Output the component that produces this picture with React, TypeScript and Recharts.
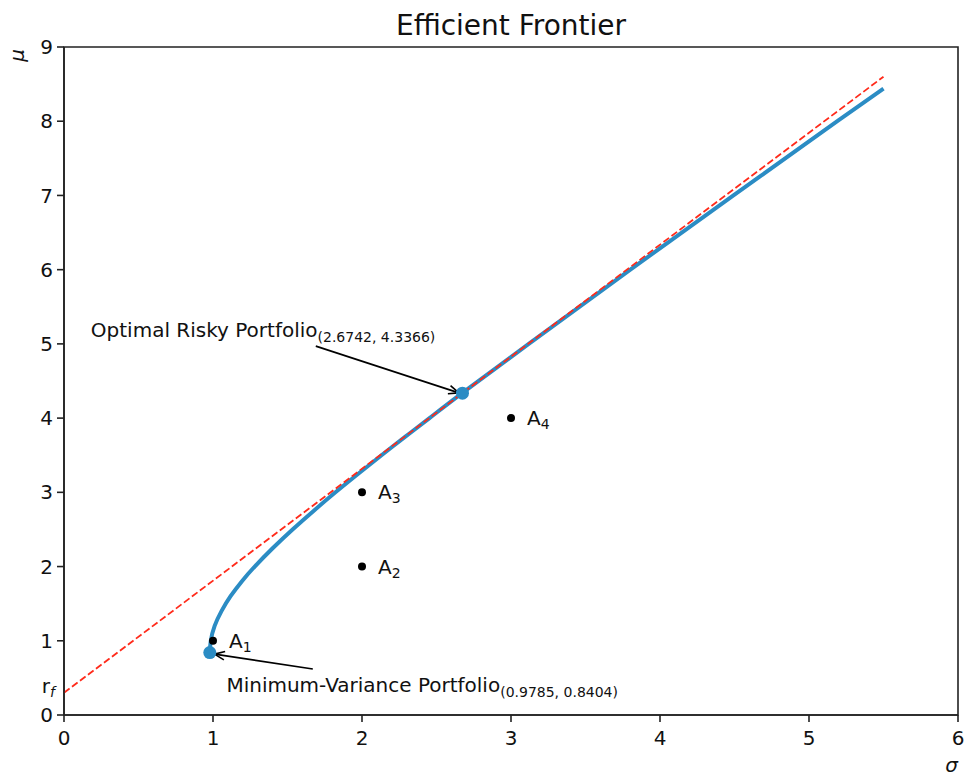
import { ComposedChart, Line, Scatter, XAxis, YAxis, ReferenceLine, ReferenceArea } from 'recharts';

// axes
const X_TICKS = [0, 1, 2, 3, 4, 5, 6];
const Y_TICKS = [0, 1, 2, 3, 4, 5, 6, 7, 8, 9];
const RF = 0.3;

// efficient frontier (sigma, mu)
const frontierSigma = [0.979, 0.985, 1.011, 1.057, 1.118, 1.193, 1.28, 1.402, 1.534, 1.675, 1.822, 1.975, 2.131, 2.291, 2.453, 2.674, 3.119, 3.801, 4.493, 5.19, 5.5];
const frontierMu = [0.84, 1.0, 1.2, 1.4, 1.6, 1.8, 2.0, 2.25, 2.5, 2.75, 3.0, 3.25, 3.5, 3.75, 4.0, 4.34, 5.0, 6.0, 7.0, 8.0, 8.44];

// capital market line
const cmlSigma = [0, 5.5];
const cmlMu = [RF, 8.6];

// single assets
const assetIds = ['1', '2', '3', '4'];
const assetSigma = [1, 2, 2, 3];
const assetMu = [1, 2, 3, 4];

// highlighted portfolios
const portfolioNames = ['Minimum-Variance Portfolio', 'Optimal Risky Portfolio'];
const portfolioSigma = [0.9785, 2.6742];
const portfolioMu = [0.8404, 4.3366];
const textSigma = [1.09, 0.18];
const textMu = [0.31, 5.09];
const arrowFromSigma = [1.67, 1.69];
const arrowFromMu = [0.62, 4.97];
const arrowToSigma = [1.01, 2.65];
const arrowToMu = [0.82, 4.34];

const BLUE = '#2b8cc4';
const RED = '#ff2a1a';
const FONT = 'DejaVu Sans, sans-serif';

const frontier = frontierSigma.map((x, i) => ({ x, y: frontierMu[i] }));
const cml = cmlSigma.map((x, i) => ({ x, y: cmlMu[i] }));
const assets = assetIds.map((id, i) => ({ id, x: assetSigma[i], y: assetMu[i] }));
const portfolios = portfolioNames.map((name, i) => ({ name, x: portfolioSigma[i], y: portfolioMu[i] }));
const notes = portfolioNames.map((name, i) => ({
  name,
  sub: `(${portfolioSigma[i].toFixed(4)}, ${portfolioMu[i].toFixed(4)})`,
  x: textSigma[i],
  y: textMu[i],
}));
const rfMark = [{ x: 0, y: RF }];

const AssetDot = (props: any) => {
  const { cx, cy, payload } = props;
  return (
    <g>
      <circle cx={cx} cy={cy} r={4} fill="#000" />
      <text x={cx + 16} y={cy + 7} fontSize={20} fontFamily={FONT} fill="#111">
        A<tspan fontSize={14} dy={4}>{payload.id}</tspan>
      </text>
    </g>
  );
};

const NoteText = (props: any) => {
  const { cx, cy, payload } = props;
  return (
    <text x={cx} y={cy} fontSize={20} fontFamily={FONT} fill="#111">
      {payload.name}
      <tspan fontSize={14} dy={5}>{payload.sub}</tspan>
    </text>
  );
};

const RfText = (props: any) => {
  const { cx, cy } = props;
  return (
    <text x={cx - 9} y={cy} textAnchor="end" fontSize={20} fontFamily={FONT} fill="#111">
      r<tspan fontSize={14} fontStyle="italic" dy={4}>f</tspan>
    </text>
  );
};

const Arrow = (props: any) => {
  const { x1, y1, x2, y2 } = props;
  const a = Math.atan2(y2 - y1, x2 - x1);
  const len = 11;
  const spread = 0.4;
  return (
    <g stroke="#000" strokeWidth={1.6} fill="none">
      <line x1={x1} y1={y1} x2={x2} y2={y2} />
      <line x1={x2} y1={y2} x2={x2 - len * Math.cos(a - spread)} y2={y2 - len * Math.sin(a - spread)} />
      <line x1={x2} y1={y2} x2={x2 - len * Math.cos(a + spread)} y2={y2 - len * Math.sin(a + spread)} />
    </g>
  );
};

const YLabel = (props: any) => {
  const { viewBox } = props;
  return (
    <text
      transform={`translate(${viewBox.x + 24}, ${viewBox.y + 2}) rotate(-90)`}
      textAnchor="end"
      fontSize={20}
      fontStyle="italic"
      fontFamily={FONT}
      fill="#111"
    >
      μ
    </text>
  );
};

const XLabel = (props: any) => {
  const { viewBox } = props;
  return (
    <text
      x={viewBox.x + viewBox.width}
      y={viewBox.y + 57}
      textAnchor="end"
      fontSize={20}
      fontStyle="italic"
      fontFamily={FONT}
      fill="#111"
    >
      σ
    </text>
  );
};

const App = () => {
  const tick = { fill: '#111', fontSize: 20, fontFamily: FONT };
  return (
    <div style={{ position: 'absolute', left: 0, top: 0, width: 966, height: 774, background: '#fff' }}>
      <div
        style={{
          position: 'absolute',
          left: 64,
          width: 894,
          top: 9,
          textAlign: 'center',
          fontFamily: FONT,
          fontSize: 28,
          color: '#111',
          lineHeight: '34px',
        }}
      >
        Efficient Frontier
      </div>
      <ComposedChart width={966} height={774} margin={{ top: 47, right: 8, bottom: 0, left: 0 }}>
        <XAxis
          type="number"
          dataKey="x"
          domain={[0, 6]}
          ticks={X_TICKS}
          height={59}
          tick={tick}
          tickSize={7}
          tickMargin={9}
          stroke="#222"
          strokeWidth={1.6}
          label={<XLabel />}
        />
        <YAxis
          type="number"
          dataKey="y"
          domain={[0, 9]}
          ticks={Y_TICKS}
          width={64}
          tick={tick}
          tickSize={7}
          tickMargin={4}
          stroke="#222"
          strokeWidth={1.6}
          label={<YLabel />}
        />
        <ReferenceArea x1={0} x2={6} y1={0} y2={9} fill="none" stroke="#222" strokeWidth={1.6} />
        <Line
          data={frontier}
          dataKey="y"
          type="natural"
          stroke={BLUE}
          strokeWidth={4}
          dot={false}
          isAnimationActive={false}
        />
        <Scatter data={portfolios} dataKey="y" fill={BLUE} shape={(p: any) => <circle cx={p.cx} cy={p.cy} r={6.5} fill={BLUE} />} isAnimationActive={false} />
        <Line
          data={cml}
          dataKey="y"
          type="linear"
          stroke={RED}
          strokeWidth={1.8}
          strokeDasharray="7 3"
          dot={false}
          isAnimationActive={false}
        />
        <Scatter data={assets} dataKey="y" shape={<AssetDot />} isAnimationActive={false} />
        <Scatter data={notes} dataKey="y" shape={<NoteText />} isAnimationActive={false} />
        <Scatter data={rfMark} dataKey="y" shape={<RfText />} isAnimationActive={false} />
        {portfolioNames.map((name, i) => (
          <ReferenceLine
            key={name}
            segment={[
              { x: arrowFromSigma[i], y: arrowFromMu[i] },
              { x: arrowToSigma[i], y: arrowToMu[i] },
            ]}
            shape={<Arrow />}
          />
        ))}
      </ComposedChart>
    </div>
  );
};

export default App;
